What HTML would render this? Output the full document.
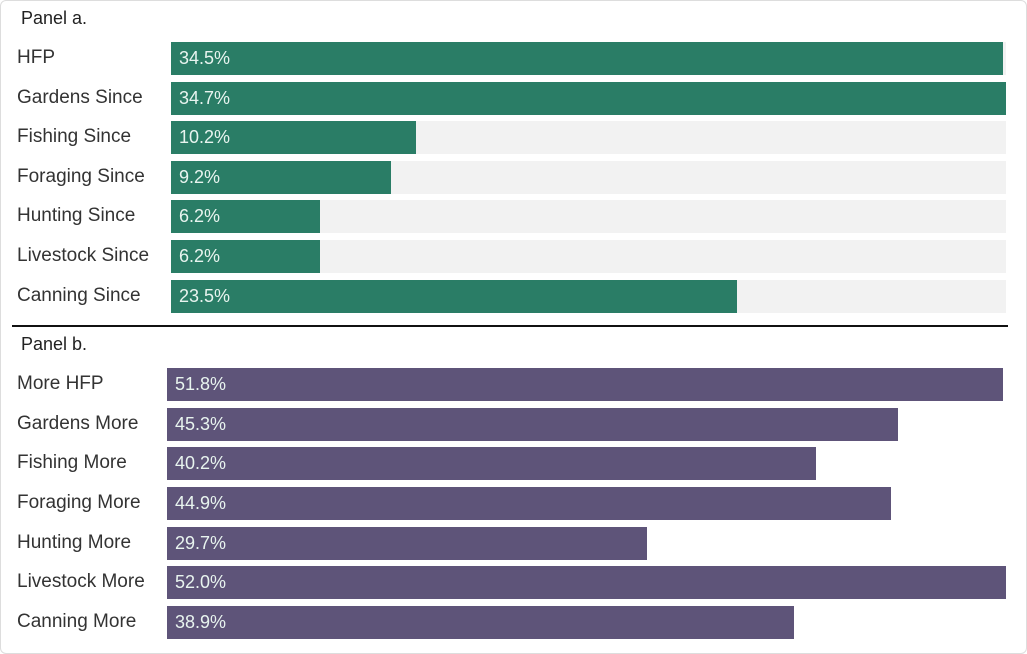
<!DOCTYPE html>
<html><head><style>
body{margin:0;width:1027px;height:654px;background:#fff;font-family:"Liberation Sans",sans-serif;position:relative;overflow:hidden}
.frame{position:absolute;left:0;top:0;width:1025px;height:652px;border:1px solid #ddd;border-radius:6px}
.t{position:absolute;font-size:18px;color:#222}
.lab{position:absolute;left:17px;font-size:19px;color:#333}
.bg{position:absolute;background:#f2f2f2;height:33px}
.b{position:absolute;height:33px;color:#e8f4ef;font-size:18px;line-height:33px;padding-left:8px;box-sizing:border-box}
.g{background:#2a7d66}.p{background:#5e5479}
.line{position:absolute;left:12px;top:325px;width:996px;height:2px;background:#111}
</style></head><body>
<div class="frame"></div>
<div class="t" style="left:21px;top:8px">Panel a.</div>
<div class="t" style="left:21px;top:334px">Panel b.</div>
<div class="line"></div>

<div class="lab" style="top:47px">HFP</div>
<div class="bg" style="left:171px;top:42px;width:835px"></div>
<div class="b g" style="left:171px;top:42px;width:832px">34.5%</div>

<div class="lab" style="top:87px">Gardens Since</div>
<div class="bg" style="left:171px;top:82px;width:835px"></div>
<div class="b g" style="left:171px;top:82px;width:835px">34.7%</div>

<div class="lab" style="top:126px">Fishing Since</div>
<div class="bg" style="left:171px;top:121px;width:835px"></div>
<div class="b g" style="left:171px;top:121px;width:245px">10.2%</div>

<div class="lab" style="top:166px">Foraging Since</div>
<div class="bg" style="left:171px;top:161px;width:835px"></div>
<div class="b g" style="left:171px;top:161px;width:220px">9.2%</div>

<div class="lab" style="top:205px">Hunting Since</div>
<div class="bg" style="left:171px;top:200px;width:835px"></div>
<div class="b g" style="left:171px;top:200px;width:149px">6.2%</div>

<div class="lab" style="top:245px">Livestock Since</div>
<div class="bg" style="left:171px;top:240px;width:835px"></div>
<div class="b g" style="left:171px;top:240px;width:149px">6.2%</div>

<div class="lab" style="top:285px">Canning Since</div>
<div class="bg" style="left:171px;top:280px;width:835px"></div>
<div class="b g" style="left:171px;top:280px;width:566px">23.5%</div>

<div class="lab" style="top:373px">More HFP</div>
<div class="b p" style="left:167px;top:368px;width:836px">51.8%</div>
<div class="lab" style="top:413px">Gardens More</div>
<div class="b p" style="left:167px;top:408px;width:731px">45.3%</div>
<div class="lab" style="top:452px">Fishing More</div>
<div class="b p" style="left:167px;top:447px;width:649px">40.2%</div>
<div class="lab" style="top:492px">Foraging More</div>
<div class="b p" style="left:167px;top:487px;width:724px">44.9%</div>
<div class="lab" style="top:532px">Hunting More</div>
<div class="b p" style="left:167px;top:527px;width:480px">29.7%</div>
<div class="lab" style="top:571px">Livestock More</div>
<div class="b p" style="left:167px;top:566px;width:839px">52.0%</div>
<div class="lab" style="top:611px">Canning More</div>
<div class="b p" style="left:167px;top:606px;width:627px">38.9%</div>
</body></html>
